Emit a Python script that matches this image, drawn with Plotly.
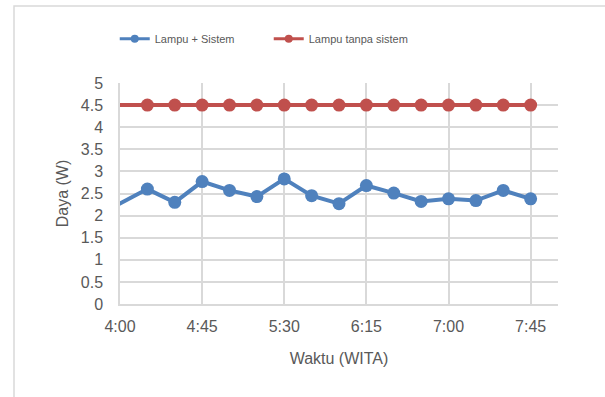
import plotly.graph_objects as go

# Measurement times (WITA), 15-minute steps
times = ["03:45", "04:15", "04:30", "04:45", "05:00", "05:15", "05:30", "05:45",
         "06:00", "06:15", "06:30", "06:45", "07:00", "07:15", "07:30", "07:45"]
# Power draw with the control system (W)
daya_sistem = [1.95, 2.60, 2.30, 2.77, 2.57, 2.43, 2.83, 2.45,
               2.27, 2.68, 2.51, 2.32, 2.38, 2.34, 2.57, 2.38]
# Power draw of the lamp alone (W)
daya_tanpa = [4.5] * len(times)

series_names = ["Lampu + Sistem", "Lampu tanpa sistem"]

y_ticks = [0, 0.5, 1, 1.5, 2, 2.5, 3, 3.5, 4, 4.5, 5]
y_tick_text = ["0", "0.5", "1", "1.5", "2", "2.5", "3", "3.5", "4", "4.5", "5"]

day = "2024-01-01 "
x = [day + t for t in times]

blue = "#4f81bd"
red = "#c0504d"
grid = "#d9d9d9"
txt = "#595959"
font = "Liberation Sans"

fig = go.Figure()
for name, vals, col in zip(series_names, [daya_sistem, daya_tanpa], [blue, red]):
    fig.add_trace(go.Scatter(
        x=x, y=vals, name=name, mode="lines+markers", legendgroup=name,
        line=dict(color=col, width=4), marker=dict(color=col, size=13),
        showlegend=False,
    ))
    # slimmer legend entry for the same series
    fig.add_trace(go.Scatter(
        x=[None], y=[None], name=name, mode="lines+markers", legendgroup=name,
        line=dict(color=col, width=3), marker=dict(color=col, size=8),
        showlegend=True,
    ))

fig.update_layout(
    width=605, height=397,
    margin=dict(l=120, r=47, t=83, b=93),
    paper_bgcolor="white", plot_bgcolor="white",
    font=dict(family=font, color=txt),
    legend=dict(orientation="h", x=-0.012, xanchor="left", y=1.2, yanchor="middle",
                font=dict(size=11, color=txt), entrywidth=109, entrywidthmode="pixels"),
    showlegend=True,
    shapes=[dict(type="rect", xref="paper", yref="paper",
                 x0=-0.242, y0=-0.6, x1=1.3, y1=1.348,
                 line=dict(color=grid, width=1.5), fillcolor="rgba(0,0,0,0)",
                 layer="below")],
)

fig.update_xaxes(
    type="date",
    range=[day + "04:00", day + "08:00"],
    tick0=day + "04:00", dtick=45 * 60 * 1000, tickformat="%-H:%M",
    showgrid=True, gridcolor=grid, gridwidth=1.5,
    showline=True, linecolor=grid, linewidth=1.5,
    ticks="", tickfont=dict(size=16, color=txt), ticklabelstandoff=7,
    title=dict(text="Waktu (WITA)", font=dict(size=16, color=txt), standoff=19),
    zeroline=False,
)
fig.update_yaxes(
    range=[0, 5], tickvals=y_ticks, ticktext=y_tick_text,
    showgrid=True, gridcolor=grid, gridwidth=1.5,
    showline=True, linecolor=grid, linewidth=1.5,
    ticks="", tickfont=dict(size=16, color=txt), ticklabelstandoff=12,
    title=dict(text="Daya (W)", font=dict(size=16, color=txt), standoff=8),
    zeroline=False,
)

fig.write_html("out.html")
